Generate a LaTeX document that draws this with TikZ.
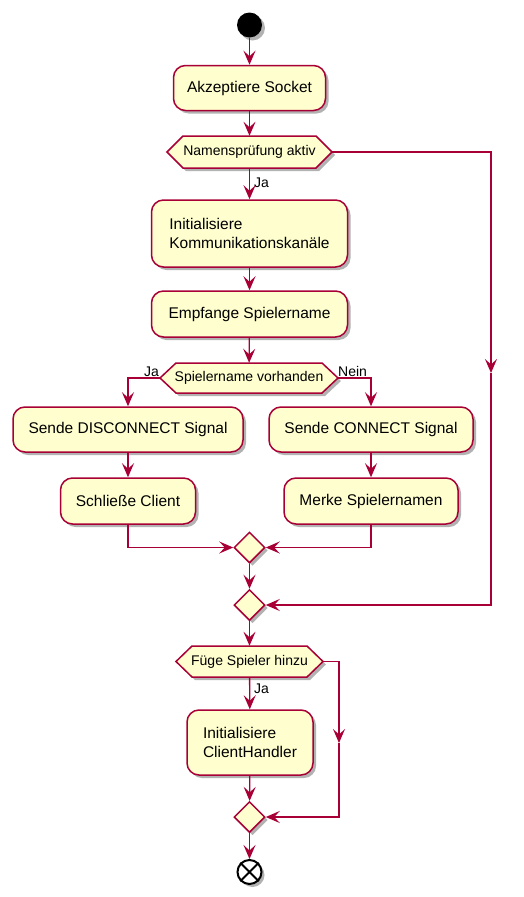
\documentclass[tikz,border=0pt]{standalone}
\usepackage{fontspec}
\setmainfont{Liberation Sans}
\usetikzlibrary{arrows.meta,shapes.geometric,shadows}
\definecolor{pfill}{HTML}{FEFECE}
\definecolor{pline}{HTML}{A80036}
\newcommand\hexat[6]{%
  \path[hexshape] (#2-#4/2,#3) -- (#2-#4/2+16,#3-#5/2) -- (#2+#4/2-16,#3-#5/2) -- (#2+#4/2,#3) -- (#2+#4/2-16,#3+#5/2) -- (#2-#4/2+16,#3+#5/2) -- cycle;
  \node[hextext,minimum width=#4 pt,minimum height=#5 pt] (#1) at (#2,#3) {#6};}
\begin{document}
\begin{tikzpicture}[x=1pt,y=-1pt,
  shadowed/.style={drop shadow={shadow xshift=3pt,shadow yshift=-3pt,opacity=0.3,fill=black}},
  act/.style={draw=pline,fill=pfill,line width=1.5pt,rounded corners=12pt,shadowed,inner sep=0pt,font=\fontsize{15.5}{19.5}\selectfont,align=left},
  hextext/.style={inner sep=0pt,font=\fontsize{14}{16}\selectfont},
  hexshape/.style={draw=pline,fill=pfill,line width=1.5pt,shadowed},
  merge/.style={diamond,draw=pline,fill=pfill,line width=1.5pt,minimum width=31pt,minimum height=31pt,inner sep=0pt,shadowed},
  flow/.style={draw=pline,line width=1.3pt,-{Stealth[length=14pt,width=12pt,inset=5.5pt]}},
  lbl/.style={font=\fontsize{14}{16}\selectfont,inner sep=0pt}
]
\useasboundingbox (0,0) rectangle (523,897);
\node[circle,fill=black,minimum size=25pt,inner sep=0pt,shadowed] (start) at (249.5,25) {};
\node[act,minimum width=152pt,minimum height=45pt] (akz) at (249.5,88) {Akzeptiere Socket};
\hexat{h1}{249.5}{152}{165}{32}{Namensprüfung aktiv}
\node[act,minimum width=196pt,minimum height=67pt] (init) at (249.5,233.5) {Initialisiere\\Kommunikationskanäle};
\node[act,minimum width=196pt,minimum height=46pt] (empf) at (249.5,314) {Empfange Spielername};
\hexat{h2}{249}{378}{178}{30}{Spielername vorhanden}
\node[act,minimum width=230pt,minimum height=45pt] (disc) at (128,429.5) {Sende DISCONNECT Signal};
\node[act,minimum width=135pt,minimum height=46pt] (schl) at (128,501) {Schließe Client};
\node[act,minimum width=204pt,minimum height=45pt] (conn) at (371,429.5) {Sende CONNECT Signal};
\node[act,minimum width=174pt,minimum height=46pt] (merk) at (371,501) {Merke Spielernamen};
\node[merge] (m1) at (249.5,547.5) {};
\node[merge] (m2) at (249.5,605) {};
\hexat{h3}{249.5}{661.5}{147}{31}{Füge Spieler hinzu}
\node[act,minimum width=126pt,minimum height=65pt] (client) at (250,742.5) {Initialisiere\\ClientHandler};
\node[merge] (m3) at (249.5,817) {};
\node[circle,draw=black,line width=2pt,fill=white,minimum size=24pt,inner sep=0pt,shadowed] (end) at (249.5,872) {};
\draw[black,line width=2pt] (end.north west) -- (end.south east) (end.north east) -- (end.south west);

\coordinate (r1) at (491,152);
\coordinate (r1m) at (491,373);
\coordinate (r1b) at (491,605);
\coordinate (r3) at (339,661.5);
\coordinate (r3m) at (339,743);
\coordinate (r3b) at (339,817);

\draw[flow] (start) -- (akz);
\draw[flow] (akz) -- (h1);
\draw[flow] (h1) -- (init);
\node[lbl,anchor=west] (ja1) at (254,183) {Ja};
\draw[flow] (init) -- (empf);
\draw[flow] (empf) -- (h2);
\draw[flow] (h2.west) -| (disc);
\draw[flow] (h2.east) -| (conn);
\node[lbl,anchor=south east] (ja2) at (159,377) {Ja};
\node[lbl,anchor=south west] (nein) at (338,377) {Nein};
\draw[flow] (disc) -- (schl);
\draw[flow] (conn) -- (merk);
\draw[flow] (schl) |- (m1);
\draw[flow] (merk) |- (m1);
\draw[flow] (m1) -- (m2);
\draw[flow] (h1.east) -- (r1) -- (r1m);
\draw[flow] (r1m) -- (r1b) -- (m2);
\draw[flow] (m2) -- (h3);
\draw[flow] (h3) -- (client);
\node[lbl,anchor=west] (ja3) at (254,689) {Ja};
\draw[flow] (client) -- (m3);
\draw[flow] (h3.east) -- (r3) -- (r3m);
\draw[flow] (r3m) -- (r3b) -- (m3);
\draw[flow] (m3) -- (end);
\end{tikzpicture}
\end{document}
